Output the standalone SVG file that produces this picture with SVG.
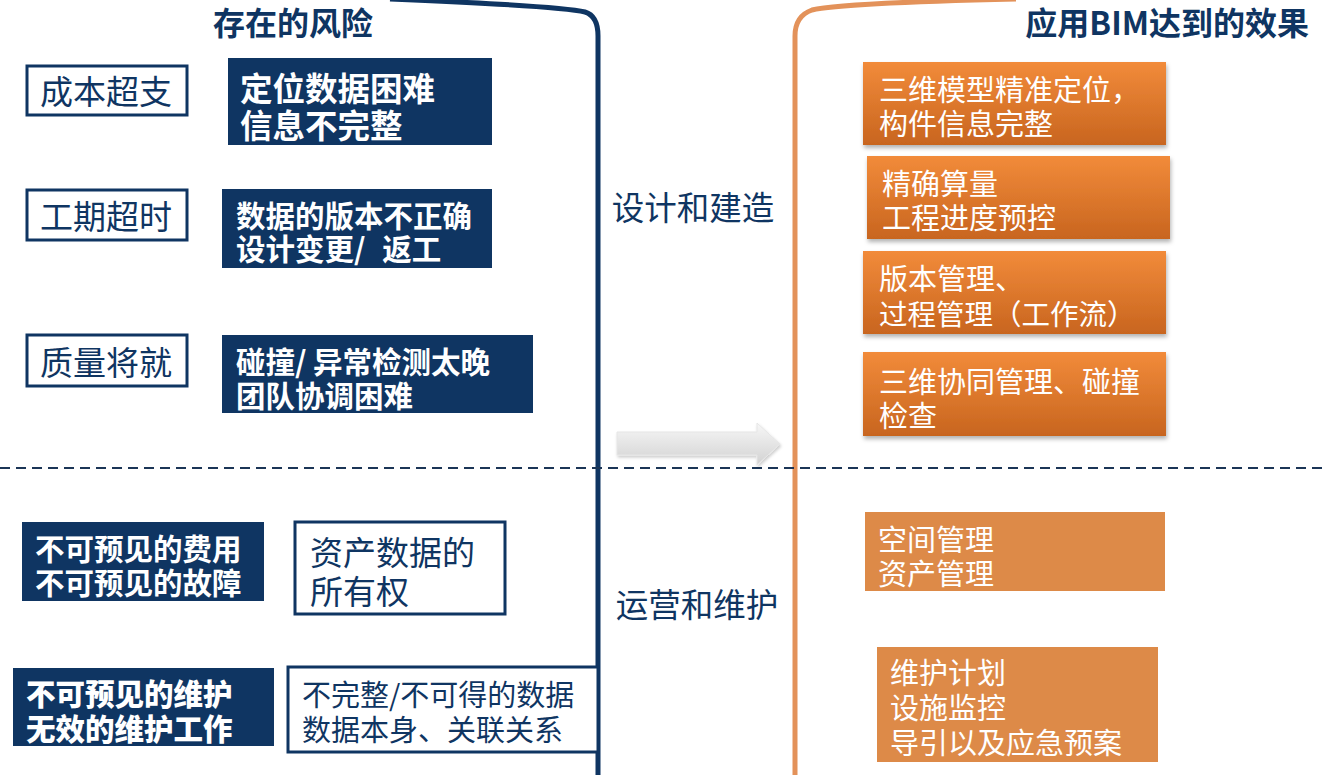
<svg xmlns="http://www.w3.org/2000/svg" width="1322" height="775" viewBox="0 0 1322 775">
<defs>
<linearGradient id="og" x1="0" y1="0" x2="0" y2="1">
<stop offset="0" stop-color="#f28b3a"/>
<stop offset="1" stop-color="#c8651f"/>
</linearGradient>
<linearGradient id="ag" x1="0" y1="0" x2="0" y2="1">
<stop offset="0" stop-color="#f7f7f7"/>
<stop offset="1" stop-color="#d2d2d2"/>
</linearGradient>
<filter id="sh" x="-10%" y="-10%" width="120%" height="130%">
<feDropShadow dx="1" dy="3" stdDeviation="2" flood-color="#000" flood-opacity="0.3"/>
</filter>
<filter id="sh2" x="-10%" y="-20%" width="120%" height="150%">
<feDropShadow dx="1" dy="2" stdDeviation="1.5" flood-color="#000" flood-opacity="0.2"/>
</filter>
</defs>
<style>
text{font-family:"Noto Sans CJK SC","Noto Sans",sans-serif;dominant-baseline:central}
.nf{fill:#0f3562}
.no{fill:#fff;stroke:#0f3562;stroke-width:3}
.wt{fill:#fff;font-size:29.5px;font-weight:bold}
.nt{fill:#0f3562;font-size:33px}
.ot{fill:#fff;font-size:29px}
.ttl{fill:#0f3562;font-size:32px;font-weight:bold}
.mid{fill:#0f3562;font-size:32.5px}
</style>
<rect width="1322" height="775" fill="#fff"/>

<g id="connectors">
<path d="M390,-1 Q560,6 585,12 Q598,16 598,36 L598,775" fill="none" stroke="#0f3562" stroke-width="5"/>
<path d="M1016,-1 Q840,3 812,10 Q795,16 795,36 L795,775" fill="none" stroke="#e3925a" stroke-width="5"/>
<line x1="0" y1="468" x2="1322" y2="468" stroke="#1b3556" stroke-width="2" stroke-dasharray="10,6"/>
<path d="M617,432 L757,432 L757,423 L780,444 L757,465 L757,455 L617,455 Z" fill="url(#ag)" stroke="#e6e6e6" stroke-width="1" filter="url(#sh2)"/>
</g>

<g id="title-left"><text class="ttl" x="293" y="21" text-anchor="middle">存在的风险</text></g>
<g id="title-right"><text class="ttl" x="1309" y="21" text-anchor="end">应用BIM达到的效果</text></g>

<g id="n-cost"><rect class="no" x="27" y="66" width="160" height="49"/><text class="nt" x="106" y="90" text-anchor="middle">成本超支</text></g>
<g id="n-locate"><rect class="nf" x="228" y="58" width="264" height="87"/><text class="wt" x="240" y="86" style="font-size:32.5px">定位数据困难</text><text class="wt" x="240" y="123" style="font-size:32.5px">信息不完整</text></g>

<g id="n-time"><rect class="no" x="27" y="190" width="160" height="50"/><text class="nt" x="106" y="215" text-anchor="middle">工期超时</text></g>
<g id="n-version"><rect class="nf" x="222" y="189" width="270" height="79"/><text class="wt" x="236" y="214">数据的版本不正确</text><text class="wt" x="236" y="247">设计变更/ <tspan dx="10">返工</tspan></text></g>

<g id="n-quality"><rect class="no" x="27" y="335" width="160" height="51"/><text class="nt" x="106" y="361" text-anchor="middle">质量将就</text></g>
<g id="n-clash"><rect class="nf" x="222" y="335" width="311" height="78"/><text class="wt" x="236" y="360">碰撞/ 异常检测太晚</text><text class="wt" x="236" y="394">团队协调困难</text></g>

<g id="n-cost2"><rect class="nf" x="22" y="522" width="242" height="79"/><text class="wt" x="35" y="547">不可预见的费用</text><text class="wt" x="35" y="581">不可预见的故障</text></g>
<g id="n-asset"><rect class="no" x="295" y="522" width="210" height="92"/><text class="nt" x="310" y="551">资产数据的</text><text class="nt" x="310" y="590">所有权</text></g>

<g id="n-maint"><rect class="nf" x="13" y="668" width="261" height="78"/><text class="wt" x="26" y="692" style="font-weight:900">不可预见的维护</text><text class="wt" x="26" y="727" style="font-weight:900">无效的维护工作</text></g>
<g id="n-data"><rect class="no" x="288" y="667" width="310" height="85"/><text class="nt" x="302" y="693" style="font-size:29px">不完整/不可得的数据</text><text class="nt" x="302" y="728" style="font-size:29px">数据本身、关联关系</text></g>

<g id="l-design"><text class="mid" x="693" y="205" text-anchor="middle">设计和建造</text></g>
<g id="l-ops"><text class="mid" x="697" y="602" text-anchor="middle">运营和维护</text></g>

<g id="r-3d"><rect x="863" y="62" width="303" height="83" fill="url(#og)" filter="url(#sh)"/><text class="ot" x="879" y="88">三维模型精准定位，</text><text class="ot" x="879" y="122">构件信息完整</text></g>
<g id="r-qty"><rect x="867" y="156" width="303" height="83" fill="url(#og)" filter="url(#sh)"/><text class="ot" x="882" y="182">精确算量</text><text class="ot" x="882" y="216">工程进度预控</text></g>
<g id="r-ver"><rect x="863" y="251" width="303" height="83" fill="url(#og)" filter="url(#sh)"/><text class="ot" x="879" y="277">版本管理、</text><text class="ot" x="879" y="312" style="font-size:28.5px">过程管理（工作流）</text></g>
<g id="r-collab"><rect x="863" y="352" width="303" height="84" fill="url(#og)" filter="url(#sh)"/><text class="ot" x="879" y="380">三维协同管理、碰撞</text><text class="ot" x="879" y="414">检查</text></g>
<g id="r-space"><rect x="865" y="512" width="300" height="79" fill="#dd8a48"/><text class="ot" x="878" y="538">空间管理</text><text class="ot" x="878" y="572">资产管理</text></g>
<g id="r-plan"><rect x="877" y="647" width="281" height="115" fill="#dd8a48"/><text class="ot" x="890" y="671">维护计划</text><text class="ot" x="890" y="706">设施监控</text><text class="ot" x="890" y="741">导引以及应急预案</text></g>
</svg>
